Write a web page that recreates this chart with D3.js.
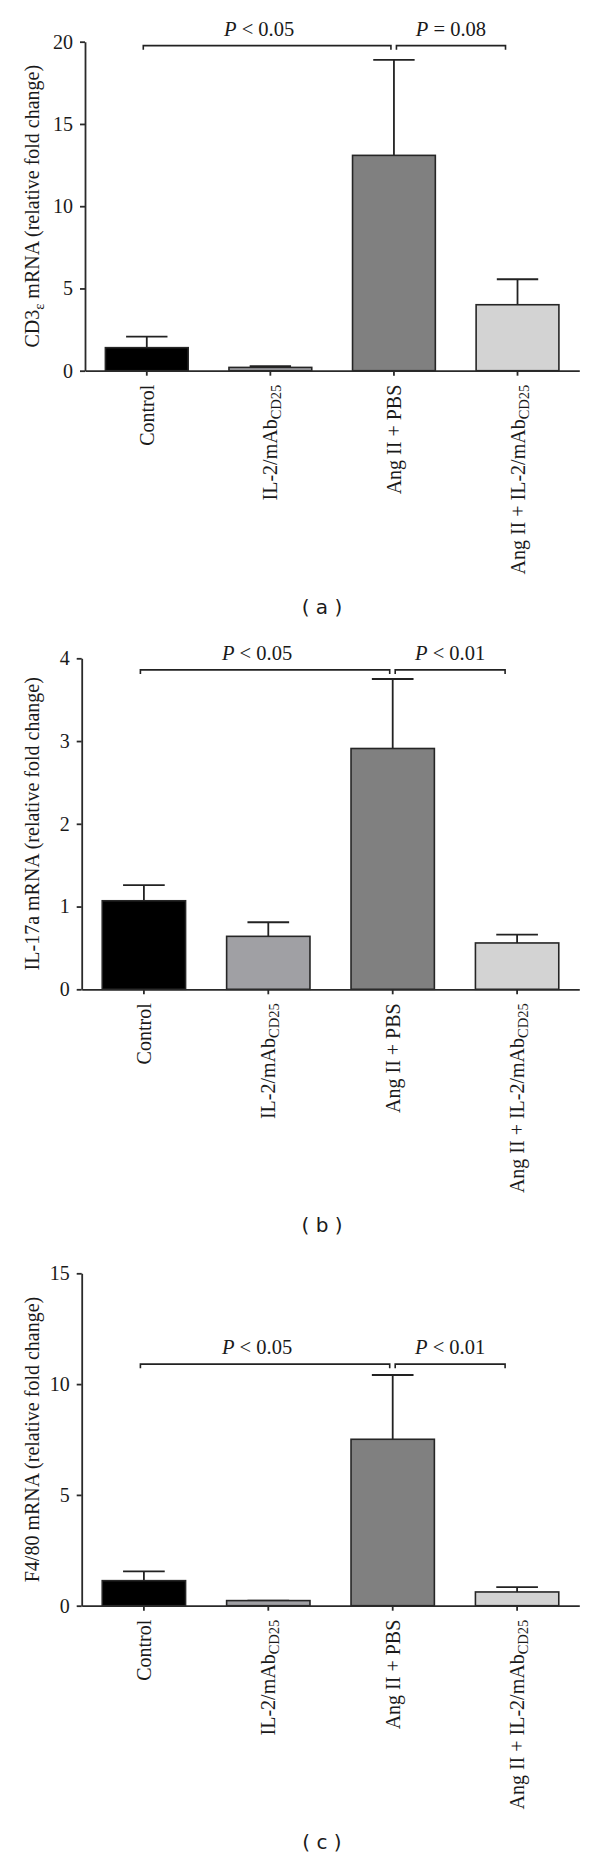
<!DOCTYPE html>
<html>
<head>
<meta charset="utf-8">
<script src="https://cdn.jsdelivr.net/npm/d3@7/dist/d3.min.js"></script>
<style>
	body { margin:0; background:#fff; }
	svg text { fill:#1a1a1a; }
	.axis path, .axis line { stroke:#2a2a2a; stroke-width:1.8px; }
	.axis text { font-family:"Liberation Serif", "DejaVu Serif", serif; font-size:20px; fill:#1a1a1a; }
</style>
</head>
<body>
<svg id="chart" width="600" height="1857"></svg>
<script>
"use strict";

// groups on the x axis (subscripts kept apart)
var groups = ['Control', 'IL-2/mAb', 'Ang II + PBS', 'Ang II + IL-2/mAb'];
var group_subs = ['', 'CD25', '', 'CD25'];
var bar_colors = ['#000000', '#a0a0a4', '#808080', '#d3d3d3'];

// (a) CD3e
var cd3_means  = [1.40, 0.20, 13.09, 4.01];
var cd3_upper  = [2.07, 0.28, 18.89, 5.56];
var cd3_ticks  = [0, 5, 10, 15, 20];
var cd3_pvals  = ['< 0.05', '= 0.08'];
var cd3_bracket = 19.76;

// (b) IL-17a
var il17_means = [1.07, 0.64, 2.91, 0.56];
var il17_upper = [1.26, 0.81, 3.75, 0.66];
var il17_ticks = [0, 1, 2, 3, 4];
var il17_pvals = ['< 0.05', '< 0.01'];
var il17_bracket = 3.86;

// (c) F4/80
var f480_means = [1.13, 0.23, 7.51, 0.62];
var f480_upper = [1.55, 0.23, 10.41, 0.84];
var f480_ticks = [0, 5, 10, 15];
var f480_pvals = ['< 0.05', '< 0.01'];
var f480_bracket = 10.9;

var panels = [
	{ tag:'a', means:cd3_means,  upper:cd3_upper,  ticks:cd3_ticks,  pvals:cd3_pvals,  bracket:cd3_bracket,
	  ylab:['CD3', 'ε', ' mRNA (relative fold change)'], left:85,   top:41.7,   base:370.7 },
	{ tag:'b', means:il17_means, upper:il17_upper, ticks:il17_ticks, pvals:il17_pvals, bracket:il17_bracket,
	  ylab:['IL-17a mRNA (relative fold change)', '', ''], left:81.7, top:658.3,  base:989.3 },
	{ tag:'c', means:f480_means, upper:f480_upper, ticks:f480_ticks, pvals:f480_pvals, bracket:f480_bracket,
	  ylab:['F4/80 mRNA (relative fold change)', '', ''],  left:81.7, top:1273.3, base:1605.7 }
];

var svg = d3.select('#chart');
var right_edge = 579.3;
var serif = '"Liberation Serif", "DejaVu Serif", serif';

panels.forEach(function(p)
{
	var g = svg.append('g').attr('class', 'panel_' + p.tag);
	var ymax = p.ticks[p.ticks.length - 1];

	var x = d3.scaleBand().domain(groups).range([p.left, right_edge])
		.paddingInner(0.33).paddingOuter(0.165);
	var y = d3.scaleLinear().domain([0, ymax]).range([p.base, p.top]);

	//*-*-*-*-*-*-*-*-*-*-*-*-*-*-*-*-*-*-*-*-*-
	//	bars + error bars (upper only)
	//*-*-*-*-*-*-*-*-*-*-*-*-*-*-*-*-*-*-*-*-*-
	var err = g.append('g').attr('class', 'errors');
	err.selectAll('line.stem')
		.data(groups).enter()
		.append('line')
			.attr('class', 'stem')
			.attr('x1', function(d){ return x(d) + x.bandwidth() / 2; })
			.attr('x2', function(d){ return x(d) + x.bandwidth() / 2; })
			.attr('y1', function(d, i){ return y(p.means[i]); })
			.attr('y2', function(d, i){ return y(p.upper[i]); })
			.attr('stroke', '#222').attr('stroke-width', 1.8);
	err.selectAll('line.cap')
		.data(groups).enter()
		.append('line')
			.attr('class', 'cap')
			.attr('x1', function(d){ return x(d) + x.bandwidth() / 2 - x.bandwidth() / 4; })
			.attr('x2', function(d){ return x(d) + x.bandwidth() / 2 + x.bandwidth() / 4; })
			.attr('y1', function(d, i){ return y(p.upper[i]); })
			.attr('y2', function(d, i){ return y(p.upper[i]); })
			.attr('stroke', '#222').attr('stroke-width', 1.8);

	g.append('g').attr('class', 'bars')
		.selectAll('rect')
		.data(groups).enter()
		.append('rect')
			.attr('x', function(d){ return x(d); })
			.attr('width', x.bandwidth())
			.attr('y', function(d, i){ return y(p.means[i]); })
			.attr('height', function(d, i){ return y(0) - y(p.means[i]); })
			.attr('fill', function(d, i){ return bar_colors[i]; })
			.attr('stroke', '#262626').attr('stroke-width', 1.6);

	//*-*-*-*-*-*-*-*-*-*-*-*-*-*-*-*-*-*-*-*-*-
	//	axes
	//*-*-*-*-*-*-*-*-*-*-*-*-*-*-*-*-*-*-*-*-*-
	g.append('g').attr('class', 'axis')
		.attr('transform', 'translate(' + p.left + ',0)')
		.call(d3.axisLeft(y).tickValues(p.ticks).tickFormat(d3.format('d'))
			.tickSize(5).tickSizeOuter(0).tickPadding(7));

	g.append('g').attr('class', 'axis')
		.attr('transform', 'translate(0,' + p.base + ')')
		.call(d3.axisBottom(x).tickSize(5).tickSizeOuter(0).tickFormat(''));

	// category labels, rotated
	groups.forEach(function(d, i)
	{
		var t = g.append('text')
			.attr('transform', 'translate(' + (x(d) + x.bandwidth() / 2) + ',' + (p.base + 14) + ') rotate(-90)')
			.attr('text-anchor', 'end')
			.attr('dy', '0.35em')
			.style('font-family', serif).style('font-size', '20px');
		t.append('tspan').text(d);
		if(group_subs[i] != '')
			t.append('tspan').attr('dy', 4).style('font-size', '14.5px').text(group_subs[i]);
	});

	// y label
	var yl = g.append('text')
		.attr('transform', 'translate(32,' + ((p.top + p.base) / 2) + ') rotate(-90)')
		.attr('text-anchor', 'middle')
		.attr('dy', '0.35em')
		.style('font-family', serif).style('font-size', '20px');
	yl.append('tspan').text(p.ylab[0]);
	if(p.ylab[1] != '')
	{
		yl.append('tspan').attr('dy', 5).style('font-size', '14.5px').text(p.ylab[1]);
		yl.append('tspan').attr('dy', -5).text(p.ylab[2]);
	}

	//*-*-*-*-*-*-*-*-*-*-*-*-*-*-*-*-*-*-*-*-*-
	//	significance brackets
	//*-*-*-*-*-*-*-*-*-*-*-*-*-*-*-*-*-*-*-*-*-
	var cx = groups.map(function(d){ return x(d) + x.bandwidth() / 2; });
	var spans = [ [cx[0] - 3.5, cx[2] - 3], [cx[2] + 2.5, cx[3] - 12] ];
	var by = y(p.bracket);
	spans.forEach(function(s, k)
	{
		g.append('path')
			.attr('d', 'M' + s[0] + ',' + (by + 4) + 'V' + by + 'H' + s[1] + 'V' + (by + 4))
			.attr('fill', 'none').attr('stroke', '#222').attr('stroke-width', 1.6);
		var pt = g.append('text')
			.attr('x', (s[0] + s[1]) / 2 - (k == 0 ? 8 : 0))
			.attr('y', by - 10)
			.attr('text-anchor', 'middle')
			.style('font-family', serif).style('font-size', '20.5px');
		pt.append('tspan').style('font-style', 'italic').text('P');
		pt.append('tspan').text(' ' + p.pvals[k]);
	});

	// panel tag
	svg.append('text')
		.attr('x', 322)
		.attr('y', p.base + 243)
		.attr('text-anchor', 'middle')
		.style('font-family', '"DejaVu Sans", Verdana, sans-serif')
		.style('font-size', '20px')
		.text('( ' + p.tag + ' )');
});
</script>
</body>
</html>
